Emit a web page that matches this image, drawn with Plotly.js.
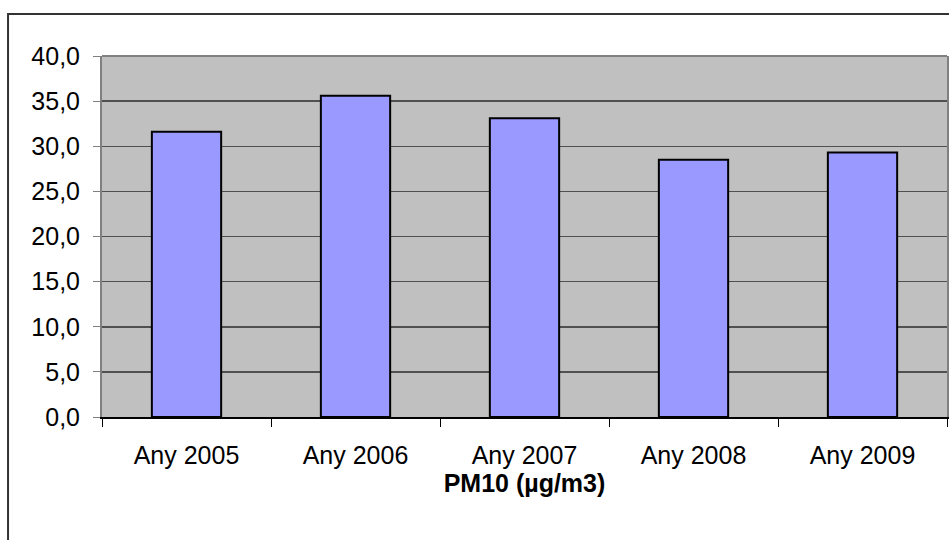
<!DOCTYPE html>
<html>
<head>
<meta charset="utf-8">
<script src="https://cdn.plot.ly/plotly-3.0.1.min.js"></script>
<style>html,body{margin:0;padding:0;background:#fff;}#chart{width:949px;height:540px;}</style>
</head>
<body>
<div id="chart"></div>
<script>
const categories = ["Any 2005", "Any 2006", "Any 2007", "Any 2008", "Any 2009"];
const pm10Values = [31.6, 35.6, 33.1, 28.5, 29.3];
const yTickValues = [0, 5, 10, 15, 20, 25, 30, 35, 40];
const xTitle = "PM10 (µg/m3)";

const trace = {
  type: "bar",
  x: categories,
  y: pm10Values,
  marker: { color: "#9999ff", line: { color: "#000000", width: 2 } },
  hoverinfo: "skip"
};

const layout = {
  width: 949,
  height: 540,
  margin: { l: 102, r: 2, t: 56, b: 123, pad: 0 },
  paper_bgcolor: "#ffffff",
  plot_bgcolor: "#c0c0c0",
  separators: ", ",
  bargap: 0.59,
  showlegend: false,
  font: { family: "Liberation Sans, Arial, sans-serif", color: "#000000", size: 25 },
  xaxis: {
    type: "category",
    tickson: "boundaries",
    ticks: "outside",
    ticklen: 8,
    tickwidth: 1,
    tickcolor: "#000000",
    showline: true,
    linecolor: "#000000",
    linewidth: 2,
    showgrid: false,
    tickfont: { size: 25 },
    ticklabelstandoff: 15,
    title: { text: "<b>" + xTitle + "</b>", font: { size: 25 }, standoff: 4 }
  },
  yaxis: {
    range: [0, 40],
    tickvals: yTickValues,
    tickformat: ".1f",
    ticks: "outside",
    ticklen: 7,
    tickwidth: 1,
    tickcolor: "#808080",
    showline: true,
    linecolor: "#808080",
    linewidth: 2,
    mirror: true,
    showgrid: true,
    gridcolor: "#505050",
    gridwidth: 1.5,
    zeroline: false,
    tickfont: { size: 25 },
    ticklabelstandoff: 8
  },
  shapes: [
    { type: "line", xref: "paper", yref: "paper", x0: 0, x1: 1, y0: 1, y1: 1,
      line: { color: "#808080", width: 2 } },
    { type: "rect", xref: "paper", yref: "paper", x0: -0.1112, x1: 1.2, y0: -0.6, y1: 1.1163,
      line: { color: "#333333", width: 2 }, fillcolor: "rgba(0,0,0,0)", layer: "above" }
  ]
};

Plotly.newPlot("chart", [trace], layout, { staticPlot: true, displayModeBar: false });
</script>
</body>
</html>
